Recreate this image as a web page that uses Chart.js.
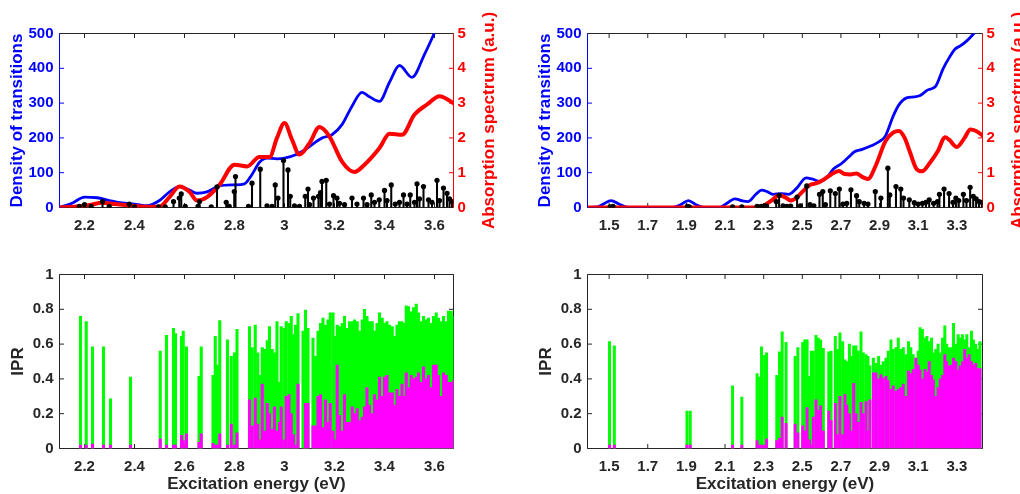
<!DOCTYPE html>
<html>
<head>
<meta charset="utf-8">
<script src="https://cdn.jsdelivr.net/npm/chart.js@4.4.1/dist/chart.umd.min.js"></script>
<style>
  html, body { margin: 0; padding: 0; background: #fff; }
  #wrap { position: relative; width: 1020px; height: 494px; overflow: hidden; }
  canvas { position: absolute; }
</style>
</head>
<body>
<div id="wrap">
  <canvas id="tl" width="510" height="247" style="left:0;top:0"></canvas>
  <canvas id="tr" width="510" height="247" style="left:510px;top:0"></canvas>
  <canvas id="bl" width="510" height="247" style="left:0;top:247px"></canvas>
  <canvas id="br" width="510" height="247" style="left:510px;top:247px"></canvas>
</div>
<script>
// ---- tick labels ----
const tlXTicks = [2.2, 2.4, 2.6, 2.8, 3, 3.2, 3.4, 3.6];
const trXTicks = [1.5, 1.7, 1.9, 2.1, 2.3, 2.5, 2.7, 2.9, 3.1, 3.3];
const densTicks = [0, 100, 200, 300, 400, 500];
const absTicks = [0, 1, 2, 3, 4, 5];
const iprTicks = [0, 0.2, 0.4, 0.6, 0.8, 1];

// ---- top left: density of transitions / absorption / oscillator sticks ----
const tlDensE = [2.10,2.15,2.20,2.25,2.30,2.35,2.40,2.45,2.50,2.54,2.58,2.62,2.65,2.69,2.74,2.80,2.84,2.87,2.90,2.93,2.97,3.00,3.05,3.09,3.15,3.19,3.23,3.27,3.31,3.34,3.38,3.42,3.46,3.51,3.56,3.60,3.64,3.68];
const tlDens  = [0,12,30,28,20,13,10,5,20,45,60,50,41,45,62,65,68,95,130,142,140,142,153,170,200,209,238,291,331,318,305,360,408,374,440,502,570,630];
const tlAbsE = [2.10,2.16,2.22,2.27,2.32,2.38,2.44,2.50,2.54,2.58,2.62,2.65,2.69,2.74,2.80,2.85,2.90,2.94,2.97,3.00,3.03,3.06,3.10,3.14,3.18,3.23,3.28,3.32,3.38,3.42,3.47,3.52,3.57,3.62,3.68];
const tlAbs  = [0,0.02,0.07,0.14,0.1,0.06,0.02,0.03,0.3,0.6,0.45,0.2,0.3,0.65,1.23,1.18,1.45,1.45,2.0,2.43,1.95,1.52,1.85,2.31,2.04,1.32,1.02,1.23,1.71,2.12,2.09,2.67,2.96,3.2,2.98];
const tlStickE = [2.179,2.200,2.227,2.272,2.299,2.379,2.400,2.496,2.523,2.556,2.579,2.587,2.603,2.654,2.660,2.707,2.730,2.767,2.779,2.799,2.804,2.856,2.870,2.903,2.930,2.950,2.963,2.974,2.996,3.014,3.023,3.040,3.060,3.083,3.094,3.100,3.116,3.136,3.144,3.150,3.167,3.180,3.196,3.210,3.220,3.240,3.270,3.290,3.316,3.330,3.347,3.360,3.379,3.400,3.410,3.427,3.443,3.460,3.476,3.490,3.503,3.520,3.530,3.540,3.556,3.576,3.590,3.610,3.620,3.636,3.650,3.660,3.670];
const tlStick  = [3,8,3,17,3,10,2,2,2,17,27,39,3,3,17,2,59,15,3,46,89,3,70,110,5,3,65,27,135,108,32,5,3,32,53,8,27,32,43,75,78,10,34,27,12,8,27,10,27,8,36,15,22,49,20,65,10,15,36,10,36,15,68,25,60,22,15,78,20,56,41,25,17];

// ---- top right ----
const trDensE = [1.39,1.44,1.47,1.51,1.55,1.59,1.63,1.83,1.87,1.91,1.95,1.99,2.07,2.11,2.15,2.19,2.22,2.26,2.29,2.32,2.35,2.39,2.43,2.47,2.52,2.55,2.59,2.63,2.66,2.70,2.74,2.77,2.81,2.86,2.90,2.93,2.97,3.00,3.04,3.08,3.11,3.15,3.19,3.23,3.26,3.29,3.32,3.35,3.38,3.41,3.44];
const trDens  = [0,2,10,20,10,1,0,0,8,20,8,0,0,12,25,19,17,38,50,45,38,40,38,55,85,82,75,88,110,125,145,160,167,178,190,205,262,295,315,318,322,338,348,400,430,455,465,478,495,515,545];
const trAbsE = [1.39,2.26,2.30,2.34,2.38,2.41,2.44,2.47,2.50,2.54,2.57,2.61,2.65,2.69,2.72,2.75,2.78,2.81,2.84,2.88,2.93,2.97,3.00,3.03,3.06,3.09,3.12,3.16,3.20,3.24,3.26,3.30,3.34,3.37,3.40,3.44];
const trAbs  = [0,0,0.05,0.2,0.35,0.3,0.2,0.28,0.45,0.65,0.69,0.8,0.95,1.05,0.96,0.95,0.98,0.88,0.82,1.2,1.9,2.15,2.2,2.0,1.55,1.12,1.04,1.28,1.6,2.02,1.95,1.74,2.0,2.24,2.2,2.04];
const trStickE = [1.505,1.520,1.905,1.915,2.139,2.187,2.266,2.280,2.290,2.305,2.315,2.365,2.380,2.400,2.420,2.440,2.473,2.490,2.523,2.540,2.560,2.589,2.606,2.620,2.645,2.671,2.692,2.710,2.730,2.752,2.781,2.795,2.820,2.840,2.878,2.907,2.943,2.953,2.985,3.010,3.024,3.054,3.080,3.100,3.122,3.140,3.157,3.180,3.200,3.210,3.234,3.260,3.280,3.295,3.310,3.334,3.350,3.369,3.385,3.400,3.415,3.430];
const trStick  = [2,3,3,2,2,2,3,2,3,5,4,17,35,5,3,4,30,5,62,8,5,38,46,8,48,40,53,10,12,51,34,17,12,10,46,27,113,36,60,53,27,22,14,10,12,15,22,12,17,38,53,40,15,27,20,38,20,58,32,25,17,15];

// ---- bottom left: IPR ----
const blE = [2.184,2.207,2.232,2.276,2.304,2.384,2.503,2.528,2.556,2.564,2.588,2.595,2.608,2.658,2.667,2.714,2.723,2.731,2.741,2.772,2.787,2.800,2.810,2.860,2.871,2.883,2.893,
  2.900,2.911,2.920,2.931,2.940,2.951,2.960,2.970,2.980,2.987,2.998,3.007,3.018,3.027,3.036,3.044,3.054,3.074,3.084,3.094,3.114,3.124,3.134,3.144,3.154,3.164,3.174,3.183,3.194,3.202,
  3.211,3.220,3.231,3.240,3.250,3.260,3.271,3.280,3.291,3.300,3.311,3.320,3.330,3.340,3.351,3.360,3.370,3.380,3.391,3.400,3.410,3.420,3.431,3.440,3.450,3.460,3.470,3.479,3.487,3.496,
  3.507,3.516,3.527,3.536,3.547,3.556,3.567,3.576,3.587,3.596,3.607,3.616,3.627,3.636,3.647,3.656,3.667,3.676];
const blTotal = [0.76,0.73,0.585,0.585,0.285,0.41,0.56,0.65,0.69,0.66,0.645,0.675,0.585,0.415,0.585,0.42,0.645,0.48,0.735,0.625,0.53,0.55,0.685,0.70,0.58,0.71,0.55,
  0.42,0.58,0.57,0.62,0.70,0.57,0.55,0.73,0.38,0.70,0.69,0.73,0.72,0.76,0.655,0.71,0.775,0.675,0.795,0.69,0.635,0.53,0.675,0.72,0.75,0.71,0.74,0.78,0.78,0.645,
  0.71,0.70,0.72,0.76,0.69,0.73,0.73,0.74,0.73,0.675,0.74,0.80,0.76,0.73,0.73,0.675,0.72,0.78,0.75,0.72,0.73,0.71,0.70,0.645,0.71,0.73,0.73,0.72,0.82,0.815,
  0.785,0.81,0.83,0.78,0.73,0.76,0.74,0.75,0.72,0.76,0.78,0.75,0.73,0.76,0.73,0.79,0.79,0.76];
const blPart = [0.02,0.02,0.025,0.02,0.02,0.02,0.055,0.02,0.02,0.02,0.075,0.045,0.085,0.035,0.085,0.03,0.02,0.02,0.085,0.02,0.14,0.02,0.09,0.28,0.13,0.29,0.14,
  0.05,0.37,0.1,0.26,0.2,0.11,0.24,0.1,0.15,0.24,0.05,0.30,0.31,0.2,0.08,0.02,0.37,0.0,0.26,0.26,0.13,0.13,0.30,0.31,0.12,0.28,0.15,0.26,0.1,0.05,
  0.48,0.19,0.1,0.31,0.15,0.15,0.24,0.2,0.23,0.16,0.18,0.24,0.35,0.25,0.2,0.31,0.28,0.41,0.3,0.41,0.42,0.32,0.32,0.25,0.34,0.3,0.37,0.3,0.435,0.35,
  0.42,0.4,0.41,0.435,0.38,0.47,0.4,0.42,0.35,0.48,0.48,0.42,0.3,0.435,0.42,0.38,0.38,0.39];

// ---- bottom right: IPR ----
const brE = [1.502,1.527,1.903,1.920,2.139,2.187,2.266,2.279,2.289,2.305,2.315,2.368,2.382,2.396,2.416,
  2.463,2.477,2.502,2.513,2.525,2.537,2.547,2.557,2.571,2.583,2.595,2.609,2.637,2.649,2.671,2.683,2.695,2.709,2.721,2.731,
  2.744,2.756,2.766,2.778,2.790,2.804,2.816,2.830,2.840,2.850,2.868,2.881,2.895,2.907,2.919,2.933,2.945,2.959,2.971,2.985,
  2.997,3.009,3.023,3.036,3.050,3.062,3.074,3.088,3.100,3.110,3.122,3.135,3.145,3.157,3.169,3.179,3.191,3.203,3.214,3.226,
  3.238,3.248,3.260,3.272,3.283,3.295,3.307,3.317,3.329,3.341,3.352,3.364,3.376,3.386,3.398,3.410,3.420];
const brTotal = [0.615,0.59,0.215,0.215,0.36,0.295,0.43,0.41,0.585,0.535,0.55,0.42,0.555,0.67,0.61,
  0.53,0.58,0.61,0.625,0.625,0.415,0.56,0.56,0.65,0.635,0.625,0.575,0.555,0.56,0.645,0.57,0.665,0.615,0.51,0.50,
  0.60,0.53,0.59,0.59,0.56,0.67,0.55,0.54,0.53,0.475,0.52,0.49,0.53,0.48,0.50,0.52,0.56,0.625,0.57,0.58,
  0.635,0.57,0.58,0.54,0.615,0.58,0.54,0.52,0.56,0.695,0.685,0.635,0.645,0.615,0.635,0.55,0.57,0.60,0.55,0.635,
  0.705,0.60,0.58,0.58,0.72,0.60,0.655,0.635,0.655,0.625,0.655,0.58,0.675,0.625,0.60,0.57,0.615];
const brPart = [0.02,0.02,0.02,0.02,0.02,0.02,0.045,0.02,0.02,0.02,0.055,0.045,0.06,0.18,0.145,
  0.14,0.09,0.13,0.1,0.235,0.05,0.02,0.18,0.28,0.22,0.245,0.1,0.215,0.16,0.26,0.08,0.30,0.08,0.31,0.25,
  0.2,0.1,0.375,0.2,0.15,0.265,0.2,0.27,0.1,0.28,0.435,0.435,0.4,0.425,0.405,0.415,0.39,0.34,0.36,0.33,
  0.34,0.35,0.37,0.3,0.445,0.43,0.455,0.52,0.48,0.45,0.4,0.455,0.44,0.50,0.42,0.395,0.3,0.35,0.4,0.42,
  0.54,0.5,0.475,0.48,0.52,0.5,0.45,0.475,0.5,0.57,0.52,0.54,0.5,0.48,0.49,0.46,0.46];

// ---- look ----
const FONT = "'Liberation Sans', Arial, Helvetica, sans-serif";
Chart.defaults.font.family = FONT;
Chart.defaults.font.weight = 'bold';
Chart.defaults.font.size = 15;
Chart.defaults.animation = false;
Chart.defaults.plugins.legend.display = false;
Chart.defaults.plugins.tooltip.enabled = false;

const W = 510, H = 247;
const INK = '#262626', BLUE = '#0000ff', RED = '#ff0000';

const xy = (xs, ys) => xs.map((x, i) => ({x: x, y: ys[i]}));
const fmt = v => String(Math.round(v * 100) / 100);
const fixTicks = list => s => { s.ticks = list.map(v => ({value: v})); };

// MATLAB-like box with inward ticks, plus a bottom-to-top right label
const boxPlugin = {
  id: 'box',
  beforeDatasetsDraw(chart, args, o) {
    const {ctx, chartArea: a, scales} = chart;
    const L = 4.5;
    const seg = (x1, y1, x2, y2, c) => {
      ctx.strokeStyle = c;
      ctx.beginPath(); ctx.moveTo(x1, y1); ctx.lineTo(x2, y2); ctx.stroke();
    };
    ctx.save();
    ctx.lineWidth = 1;
    scales.x.ticks.forEach(t => {
      const p = scales.x.getPixelForValue(t.value);
      seg(p, a.top, p, a.top + L, INK);
      seg(p, a.bottom, p, a.bottom - L, INK);
    });
    scales.y.ticks.forEach(t => {
      const p = scales.y.getPixelForValue(t.value);
      seg(a.left, p, a.left + L, p, o.leftColor);
      seg(a.right, p, a.right - L, p, o.rightColor);
    });
    seg(a.left, a.top, a.right, a.top, INK);
    seg(a.left, a.bottom, a.right, a.bottom, INK);
    seg(a.left, a.top, a.left, a.bottom, o.leftColor);
    seg(a.right, a.top, a.right, a.bottom, o.rightColor);
    ctx.restore();
  },
  afterDraw(chart, args, o) {
    if (!o.rightTitle) return;
    const {ctx, chartArea: a} = chart;
    ctx.save();
    ctx.translate(a.right + 36, (a.top + a.bottom) / 2);
    ctx.rotate(-Math.PI / 2);
    ctx.font = 'bold 17px ' + FONT;
    ctx.fillStyle = RED;
    ctx.textAlign = 'center';
    ctx.textBaseline = 'middle';
    ctx.fillText(o.rightTitle, 0, 0);
    ctx.restore();
  }
};

function xScale(g, range, ticks, title) {
  return {
    type: 'linear', min: range[0], max: range[1], offset: false,
    grid: {display: false, drawTicks: false, offset: false}, border: {display: false},
    afterBuildTicks: fixTicks(ticks),
    afterFit: s => { s.height = H - g.bottom; },
    ticks: {color: INK, padding: 9, callback: fmt, autoSkip: false, maxRotation: 0},
    title: {display: !!title, text: title, color: INK, font: {size: 17}, padding: {top: 0, bottom: -1}}
  };
}

function topChart(id, g, range, xTicks, dE, dV, aE, aV, sE, sV) {
  return new Chart(document.getElementById(id), {
    type: 'line',
    data: {
      datasets: [
        {type: 'scatter', data: xy(sE, sV), yAxisID: 'y', pointRadius: 2.6, pointBackgroundColor: '#000', pointBorderWidth: 0, order: 0},
        {type: 'bar', data: xy(sE, sV), yAxisID: 'y', backgroundColor: '#000', barThickness: 1.4, order: 1},
        {data: xy(aE, aV), yAxisID: 'y2', borderColor: RED, borderWidth: 4, pointRadius: 0, cubicInterpolationMode: 'monotone', order: 2},
        {data: xy(dE, dV), yAxisID: 'y', borderColor: BLUE, borderWidth: 2.8, pointRadius: 0, cubicInterpolationMode: 'monotone', order: 3}
      ]
    },
    options: {
      responsive: false,
      layout: {padding: {top: g.top, left: 0, right: 0, bottom: 0}},
      scales: {
        x: xScale(g, range, xTicks, ''),
        y: {
          position: 'left', min: 0, max: 500,
          grid: {display: false, drawTicks: false}, border: {display: false},
          afterBuildTicks: fixTicks(densTicks),
          afterFit: s => { s.width = g.left; },
          ticks: {color: BLUE, padding: 6, callback: fmt},
          title: {display: true, text: 'Density of transitions', color: BLUE, font: {size: 17}, padding: {top: g.left - 52}}
        },
        y2: {
          position: 'right', min: 0, max: 5,
          grid: {display: false, drawTicks: false}, border: {display: false},
          afterBuildTicks: fixTicks(absTicks),
          afterFit: s => { s.width = W - g.right; },
          ticks: {color: RED, padding: 4, callback: fmt}
        }
      },
      plugins: {box: {leftColor: BLUE, rightColor: RED, rightTitle: 'Absorption spectrum (a.u.)'}}
    },
    plugins: [boxPlugin]
  });
}

function iprChart(id, g, range, xTicks, e, total, part, thick) {
  return new Chart(document.getElementById(id), {
    type: 'bar',
    data: {
      datasets: [
        {data: xy(e, part), backgroundColor: '#ff00ff', barThickness: thick, grouped: false, order: 0},
        {data: xy(e, total), backgroundColor: '#00ff00', barThickness: thick, grouped: false, order: 1}
      ]
    },
    options: {
      responsive: false,
      layout: {padding: {top: g.top, left: 0, right: W - g.right, bottom: 0}},
      scales: {
        x: xScale(g, range, xTicks, 'Excitation energy (eV)'),
        y: {
          position: 'left', min: 0, max: 1,
          grid: {display: false, drawTicks: false}, border: {display: false},
          afterBuildTicks: fixTicks(iprTicks),
          afterFit: s => { s.width = g.left; },
          ticks: {color: INK, padding: 6, callback: fmt},
          title: {display: true, text: 'IPR', color: INK, font: {size: 17}, padding: {top: g.left - 51}}
        }
      },
      plugins: {box: {leftColor: INK, rightColor: INK}}
    },
    plugins: [boxPlugin]
  });
}

const gTL = {left: 59.5, right: 453.5, top: 33.5, bottom: 207.5};
const gTR = {left: 77.5, right: 472.5, top: 33.5, bottom: 207.5};
const gBL = {left: 59.5, right: 453.5, top: 27.5, bottom: 201.5};
const gBR = {left: 77.5, right: 472.5, top: 27.5, bottom: 201.5};

topChart('tl', gTL, [2.1, 3.676], tlXTicks, tlDensE, tlDens, tlAbsE, tlAbs, tlStickE, tlStick);
topChart('tr', gTR, [1.388, 3.433], trXTicks, trDensE, trDens, trAbsE, trAbs, trStickE, trStick);
iprChart('bl', gBL, [2.1, 3.676], tlXTicks, blE, blTotal, blPart, 2.4);
iprChart('br', gBR, [1.388, 3.433], trXTicks, brE, brTotal, brPart, 2.3);
</script>
</body>
</html>
